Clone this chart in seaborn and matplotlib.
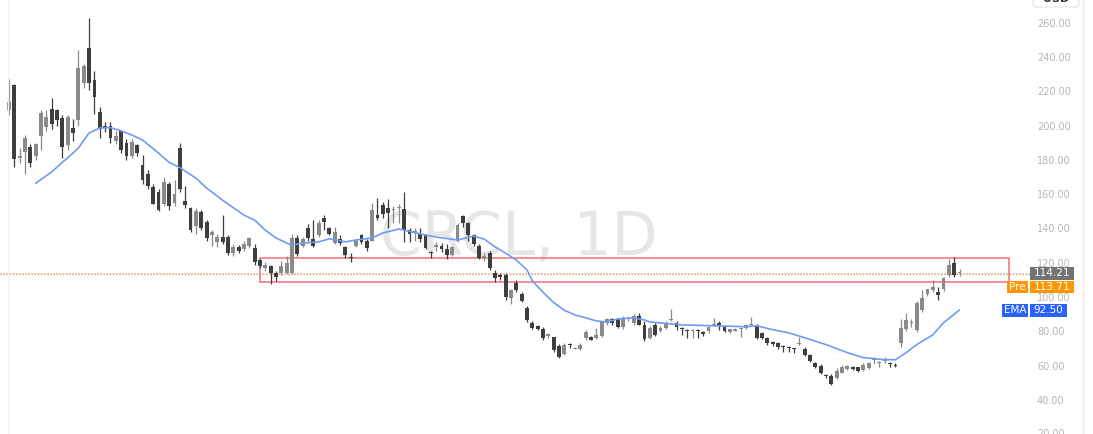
import matplotlib
matplotlib.use("Agg")
import matplotlib.pyplot as plt
import matplotlib.transforms as mtransforms
from matplotlib.patches import Rectangle, FancyBboxPatch
from matplotlib.lines import Line2D
import seaborn as sns
import numpy as np
import pandas as pd

# daily candles (oldest first)
opens = [209, 223.7, 181, 184.6, 187.4, 182, 194, 199, 209.7, 209, 204.4, 188.5, 198.5, 203, 225, 245, 226.6, 207.7,
         199.5, 200, 191, 196.6, 190, 182.5, 188.6, 177, 172, 164, 161, 154.5, 166, 155, 187, 156, 152, 141.5, 149.6,
         144, 136, 132, 135, 135, 125.5, 129, 128, 130, 128.5, 121.5, 117, 118, 114, 114, 114, 114, 134.5, 130, 140,
         134, 136, 146, 140, 131.5, 134, 129, 123.5, 129.6, 136, 133, 133, 148, 153.5, 152, 151, 152, 151.5, 139, 138,
         137, 136, 125.8, 129.5, 130, 128, 124.5, 133, 147, 143, 136, 130, 123, 125.6, 114, 112.5, 113, 99.5, 108, 102,
         93.4, 85, 83, 81.5, 77.5, 76.6, 71.5, 67, 72, 70, 69.5, 76, 76.6, 76, 77.5, 85, 87, 87, 82.5, 87, 85, 89, 84,
         76, 84, 80, 82, 86.5, 85, 81.8, 80.8, 80.5, 80.5, 79.5, 80, 84, 85, 82.5, 79.5, 80.5, 81.5, 82, 84, 84, 79, 76,
         74, 73, 71.3, 70.8, 69.8, 72.8, 70, 66, 61.5, 60, 54.5, 54, 53, 56, 58, 59.5, 59, 57.5, 58.5, 63.1, 61.4, 62.8,
         61.5, 60.2, 73, 81.5, 85, 80.8, 92.5, 102, 104, 103, 104.5, 113, 120, 114]
highs = [227, 224, 187, 194.5, 189, 190, 209, 209, 216, 209.5, 206, 206, 204, 244, 236, 263, 232, 211,
         202, 202, 197, 197, 192, 192, 189.5, 183, 174, 166, 163, 170, 167, 168, 190, 165, 152.5, 152, 151,
         145, 139, 137, 148, 136, 131, 130.5, 133, 135, 131, 122.5, 120.5, 119, 115, 121, 124, 137, 136, 135, 142.7,
         145, 145, 148, 141, 141, 136, 130, 125.5, 134, 137, 134, 155, 158, 155.5, 157, 153, 154, 161, 140, 140,
         140, 137, 127, 132, 131.5, 131, 130, 143, 148, 144, 137, 131, 126, 127, 116, 114, 114, 105, 110, 103,
         95, 86, 84, 82.5, 79, 77, 72.5, 73, 73, 71, 73, 81, 77.5, 82, 86, 88, 88, 88, 89, 89, 90, 91, 86,
         83, 85, 83, 86, 93, 86, 82.5, 81.5, 81.5, 81.5, 80, 83, 88, 86, 83, 81.5, 82, 82, 84.5, 88.5, 84.5, 79.5, 77,
         74.5, 74, 72, 71.5, 70.5, 77, 71, 67, 62, 61, 55, 55, 58.5, 60.5, 60.5, 60, 59.5, 61.5, 62, 65, 63, 65,
         62, 61.5, 87, 91, 87, 97.5, 104, 105, 110, 106, 111.5, 122, 123.4, 116.5]
lows = [206, 176, 178, 172, 176, 180, 186, 197, 198, 200, 181, 186, 191, 200, 222, 221, 207, 193,
        196, 190, 189, 184, 180, 181, 182, 166, 163, 154, 150, 153, 151, 153, 161, 152, 138, 137, 139,
        133, 130, 129, 131, 124.6, 124, 126, 127, 128.5, 119, 117, 115, 107.5, 109.5, 113, 113.5, 113.5, 124, 129, 133,
        129, 135, 139, 136, 131, 130.5, 123, 120.5, 129, 131, 127, 132.5, 145, 146, 140, 143, 143, 132, 132, 133,
        132, 128, 123, 127, 126.5, 122, 124, 132, 141, 133, 130, 122, 121, 116, 109, 110, 98.5, 96, 103, 97,
        85.5, 81.5, 81, 75, 76, 68, 64.5, 66, 70.5, 69.5, 69, 75, 75, 75.5, 76.5, 84, 84, 82, 81.5, 86, 84, 84, 74.5,
        75.5, 77.5, 79.5, 81.5, 86, 81, 78, 76, 76, 76, 77.5, 79, 83, 81, 79.5, 79, 80, 77, 81.5, 83, 75.5, 75.5, 72,
        71.5, 70, 68, 68, 67.5, 72, 65.5, 62, 58.5, 55, 53, 49, 52, 55.5, 57.5, 57.5, 56.5, 57, 58, 61, 59.5, 61.5,
        59.5, 59, 70.8, 80, 82.5, 79.5, 91.5, 100.5, 103, 98.5, 103.5, 112, 112, 112.5]
closes = [213.5, 180.3, 182, 192.8, 178, 189, 207.3, 205, 201, 203, 187.5, 205, 195.6, 233.5, 235, 224.7, 216.7, 198.3,
          198.6, 193, 194, 185.6, 182, 190.3, 184, 168, 165, 154.5, 150.7, 167, 153, 160, 163, 153.5, 139, 150, 140,
          134.5, 138, 135, 132, 125.6, 129.5, 127, 131, 134.5, 120.5, 118, 119, 114, 112, 118, 120, 134.5, 125, 134, 134.5,
          130, 143, 144, 137, 138, 131.5, 124.5, 123, 133, 132, 128.5, 150.5, 146, 148.5, 149, 151.3, 152.2, 139, 137, 138.2,
          134, 128.5, 125.5, 130, 128, 124.5, 129, 142, 143, 136, 131, 122.6, 124, 117, 111, 112, 100, 104, 104, 98,
          86.5, 82, 81.5, 76, 78.5, 69, 65, 72, 71.8, 70.4, 72, 79.5, 75, 78, 85.6, 87, 85, 82.5, 87, 87.3, 89, 83.5, 75.5,
          82, 78, 82, 85, 87, 82.5, 81.5, 80.5, 80.8, 80.3, 78.5, 82.5, 84.3, 83.5, 80, 81.5, 81.3, 81.8, 84, 84.2, 76, 76, 73,
          72.5, 71, 71, 70.5, 69.5, 73.2, 66.5, 63, 59, 56, 54, 49.5, 57, 59.5, 60, 58, 57, 60.5, 61.5, 63.4, 61.6, 63.1,
          61, 60, 82, 86.5, 85.2, 96.5, 99.5, 104.5, 106, 101.5, 111, 118.8, 113, 114.21]

# 20-day EMA, sampled along the drawn line (candle index, value)
ema_idx = [5, 8, 10, 12, 13, 15, 17, 19, 21, 23, 25, 28, 30, 32, 35, 37, 40, 44, 46, 48, 50, 52, 53, 55, 58, 60,
           63, 65, 68, 70, 73, 75, 78, 80, 84, 87, 89, 91, 93, 95, 97, 98, 100, 102, 104, 106, 108, 110, 112, 114,
           117, 119, 120, 126, 132, 138, 140, 143, 146, 149, 153, 157, 160, 164, 166, 168, 170, 173, 175, 178]
ema_vals = [166.4, 173, 178.6, 184, 187, 195.7, 198.6, 198.8, 197, 194.5, 191.6, 184, 178.5, 175.5, 169.4, 163.6,
            156.5, 147.8, 144.9, 139, 134.5, 131.5, 130.3, 131.5, 132.2, 134, 132.2, 133.3, 134.5, 137.4, 139.7, 138.3,
            136.2, 135, 133.3, 135.6, 133.8, 129.3, 125.6, 121.6, 115.8, 109.5, 102.8, 96.8, 92.3, 89.6, 87.9, 86.1,
            85.5, 87.3, 87.9, 86.7, 85.5, 83.8, 83.3, 82.7, 83.3, 81, 79.2, 76.3, 72.3, 67.6, 64.7, 63.5, 63.5, 67.6,
            72.3, 78, 85, 92.5]

last_price = 114.21
pre_price = 113.71
ema_last = 92.50
zone_low, zone_high = 108.8, 122.8
zone_start, zone_end = 47.0, 187.3
y_ticks = list(range(40, 261, 20))

UP = "#8a8a8a"
DOWN = "#3e3e3e"

sns.set_style("white")
plt.rcParams["font.family"] = ["DejaVu Sans"]

W, H = 1093, 434
fig = plt.figure(figsize=(W / 100, H / 100), dpi=100)
ax = fig.add_axes([0, 0, 1030 / W, 1])

df = pd.DataFrame({"open": opens, "high": highs, "low": lows, "close": closes})
df["idx"] = np.arange(len(df))
colors = np.where(df["close"] >= df["open"], UP, DOWN)

# watermark
ax.text(95.5, 124.5, "CRCL, 1D", fontsize=43, color="#e6e6e6", ha="center", va="baseline", zorder=0)

# candles
ax.vlines(df["idx"], df["low"], df["high"], colors=colors, lw=0.9, zorder=3)
body = np.maximum((df["close"] - df["open"]).abs(), 0.6)
ax.bar(df["idx"], body, bottom=np.minimum(df["open"], df["close"]), width=0.72,
       color=colors, linewidth=0, zorder=4)

# EMA
sns.lineplot(x=ema_idx, y=ema_vals, ax=ax, color="#6f9bf2", lw=1.2, zorder=5)

# support/resistance zone
ax.add_patch(Rectangle((zone_start, zone_low), zone_end - zone_start, zone_high - zone_low,
                       fill=False, ec="#f26d78", lw=1.1, zorder=2))

# price lines
ax.axhline(last_price, color="#9a9a9a", ls=(0, (1, 1.5)), lw=0.8, alpha=0.6, zorder=1)
ax.axhline(pre_price, color="#e8913a", ls=(0, (1, 1.5)), lw=0.9, zorder=1)

ax.set_xlim(-9 / 5.34, (1030 - 9) / 5.34)
ax.set_ylim(20.17, 273.24)
ax.set_xticks([])
ax.yaxis.tick_right()
ax.set_yticks(y_ticks)
ax.set_yticklabels([f"{v:.2f}" for v in y_ticks])
ax.tick_params(axis="y", length=0, pad=5, labelsize=7, labelcolor="#b5b5b5")
for s in ax.spines.values():
    s.set_visible(False)

blend = mtransforms.blended_transform_factory(ax.transAxes, ax.transData)
ax.text(1.0 + 7 / 1030, 20, "20.00", transform=blend, va="center", ha="left",
        fontsize=7, color="#b5b5b5", clip_on=False)


def px_box(x0, y0, x1, y1, fc, text):
    r = Rectangle((x0 / W, 1 - y1 / H), (x1 - x0) / W, (y1 - y0) / H,
                  transform=fig.transFigure, fc=fc, ec="none", zorder=10)
    fig.add_artist(r)
    fig.text((x0 + x1) / 2 / W, 1 - (y0 + y1) / 2 / H, text, ha="center", va="center",
             color="white", fontsize=7.5, zorder=11)


px_box(1030, 266.5, 1074, 279.5, "#737373", f"{last_price:.2f}")
px_box(1007, 280.5, 1028, 293, "#ff9800", "Pre")
px_box(1030, 280.5, 1074, 293, "#ff9800", f"{pre_price:.2f}")
px_box(1002, 303.5, 1028, 317, "#2962ff", "EMA")
px_box(1030, 303.5, 1067, 317, "#2962ff", f"{ema_last:.2f}")

# currency box, cut by the top edge
fig.add_artist(FancyBboxPatch((1033 / W, 1 - 7 / H), 46 / W, 14 / H, boxstyle="round,pad=0,rounding_size=0.004",
                              transform=fig.transFigure, fc="white", ec="#e3e3e3", lw=0.8, zorder=9))
fig.text(1056 / W, 1 - 2.5 / H, "USD", ha="center", va="baseline", fontsize=8, fontweight="bold",
         color="#333333", zorder=11)

# pane borders
fig.add_artist(Line2D([1083 / W] * 2, [0, 1], transform=fig.transFigure, color="#ececec", lw=1))
fig.add_artist(Line2D([8 / W] * 2, [0, 1], transform=fig.transFigure, color="#f2f2f2", lw=1))

fig.savefig("out.png", dpi=100, facecolor="white")
